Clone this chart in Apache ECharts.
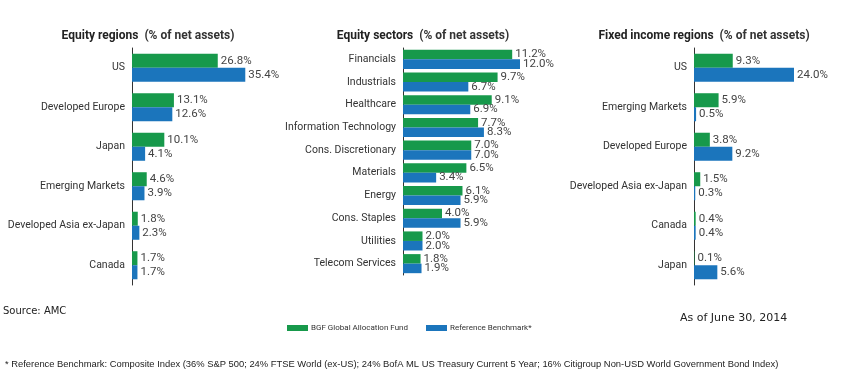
<!DOCTYPE html>
<html><head><meta charset="utf-8">
<script src="https://cdn.jsdelivr.net/npm/echarts@6/dist/echarts.min.js"></script>
<style>html,body{margin:0;padding:0;background:#fff}#c{width:845px;height:380px}</style>
</head><body><div id="c"></div>
<script>
const regionCats = ['US','Developed Europe','Japan','Emerging Markets','Developed Asia ex-Japan','Canada'];
const regionFund = [26.8,13.1,10.1,4.6,1.8,1.7];
const regionBench = [35.4,12.6,4.1,3.9,2.3,1.7];
const sectorCats = ['Financials','Industrials','Healthcare','Information Technology','Cons. Discretionary','Materials','Energy','Cons. Staples','Utilities','Telecom Services'];
const sectorFund = [11.2,9.7,9.1,7.7,7.0,6.5,6.1,4.0,2.0,1.8];
const sectorBench = [12.0,6.7,6.9,8.3,7.0,3.4,5.9,5.9,2.0,1.9];
const fiCats = ['US','Emerging Markets','Developed Europe','Developed Asia ex-Japan','Canada','Japan'];
const fiFund = [9.3,5.9,3.8,1.5,0.4,0.1];
const fiBench = [24.0,0.5,9.2,0.3,0.4,5.6];
const seriesNames = ['BGF Global Allocation Fund','Reference Benchmark*'];
const titles = ['Equity regions','Equity sectors','Fixed income regions'];

const GREEN = '#17994b', BLUE = '#1b75bc';
const FONT = 'Roboto, sans-serif';
const chart = echarts.init(document.getElementById('c'));

const grids = [
  {left:132, top:48, width:128, height:237, outerBoundsMode:'none', containLabel:false},
  {left:403, top:48, width:117, height:227, outerBoundsMode:'none', containLabel:false},
  {left:694, top:48, width:100, height:237, outerBoundsMode:'none', containLabel:false}
];
const maxes = [40, 12, 24];
const cats = [regionCats, sectorCats, fiCats];
const data = [[regionFund, regionBench],[sectorFund, sectorBench],[fiFund, fiBench]];
const gaps = ['29%','16%','29%'];
const titleX = [143, 418, 699];

const lbl = {show:true, position:'right', distance:3, color:'#444', fontFamily:FONT, fontSize:11.5,
  formatter: p => p.value.toFixed(1) + '%'};

const series = [];
for (let i=0;i<3;i++){
  [0,1].forEach(k=>{
    series.push({type:'bar', name:seriesNames[k], xAxisIndex:i, yAxisIndex:i, data:data[i][k],
      itemStyle:{color: k===0?GREEN:BLUE}, barGap:'0%', barCategoryGap:gaps[i], label:lbl, silent:true});
  });
}

chart.setOption({
  animation:false,
  title: titles.map((t,i)=>({
    text:'{b|'+t+'}{n|  (% of net assets)}', left:titleX[i], top:25, textAlign:'center',
    textStyle:{rich:{b:{fontFamily:FONT, fontWeight:'bold', fontSize:12, color:'#222'}, n:{fontFamily:FONT, fontSize:12, color:'#333'}}}
  })),
  legend:{left:282, top:319, itemWidth:21, itemHeight:6, itemGap:18, icon:'rect',
    textStyle:{fontFamily:FONT, fontSize:8, color:'#333', padding:[0,0,0,-2]},
    data:seriesNames},
  grid: grids,
  xAxis: grids.map((g,i)=>({type:'value', gridIndex:i, min:0, max:maxes[i], show:false})),
  yAxis: grids.map((g,i)=>({type:'category', gridIndex:i, data:cats[i], inverse:true,
    axisLine:{show:true, lineStyle:{color:'#333', width:1}}, axisTick:{show:false},
    axisLabel:{color:'#333', fontFamily:FONT, fontSize:10.5, margin:7}})),
  series: series,
  graphic:[
    {type:'text', left:3, top:306, style:{text:'Source: AMC', fontFamily:'"DejaVu Sans", sans-serif', fontSize:10, fill:'#222'}},
    {type:'text', left:680, top:313, style:{text:'As of June 30, 2014', fontFamily:'"DejaVu Sans", sans-serif', fontSize:11, fill:'#222'}},
    {type:'text', left:5, top:360, style:{text:'* Reference Benchmark: Composite Index (36% S&P 500; 24% FTSE World (ex-US); 24% BofA ML US Treasury Current 5 Year; 16% Citigroup Non-USD World Government Bond Index)', fontFamily:'"Liberation Sans", sans-serif', fontSize:9.4, fill:'#222'}}
  ]
});
</script></body></html>
